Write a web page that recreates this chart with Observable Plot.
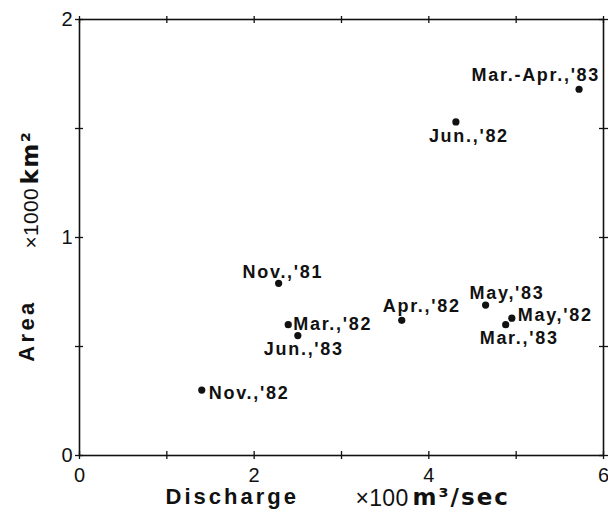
<!DOCTYPE html>
<html>
<head>
<meta charset="utf-8">
<script src="https://cdn.jsdelivr.net/npm/d3@7"></script>
<script src="https://cdn.jsdelivr.net/npm/@observablehq/plot@0.6"></script>
<style>
  html, body { margin: 0; padding: 0; background: #fff; }
  svg { font-family: "Liberation Sans", Arial, sans-serif; }
</style>
</head>
<body>
<div id="chart"></div>
<script>
// ---- data ----
const labels    = ["Nov.,'81", "Mar.,'82", "Apr.,'82", "May,'82", "Jun.,'82", "Nov.,'82", "Mar.-Apr.,'83", "Mar.,'83", "May,'83", "Jun.,'83"];
const discharge = [2.28, 2.39, 3.69, 4.95, 4.31, 1.40, 5.72, 4.88, 4.65, 2.50]; // ×100 m3/sec
const area      = [0.79, 0.60, 0.62, 0.63, 1.53, 0.30, 1.68, 0.60, 0.69, 0.55]; // ×1000 km2
const xTickLabels = [0, 2, 4, 6];
const xTicks      = [0, 1, 2, 3, 4, 5, 6];
const yTickLabels = [0, 1, 2];
const yTicks      = [0, 0.5, 1, 1.5, 2];

// ---- label placement (layout only) ----
const labelLayout = [
  {dx: -36, dy: -11, anchor: "start"},
  {dx: 5,   dy: 0,   anchor: "start"},
  {dx: -19, dy: -14, anchor: "start"},
  {dx: 6,   dy: -3,  anchor: "start"},
  {dx: -27, dy: 14,  anchor: "start"},
  {dx: 7,   dy: 3,   anchor: "start"},
  {dx: 21,  dy: -14, anchor: "end"},
  {dx: -26, dy: 14,  anchor: "start"},
  {dx: -16, dy: -12, anchor: "start"},
  {dx: -34, dy: 14,  anchor: "start"}
];

const points = labels.map((label, i) => ({label, x: discharge[i], y: area[i]}));

const W = 608, H = 520;
const mL = 79, mR = 5, mT = 19, mB = 65;
const innerW = W - mL - mR, innerH = H - mT - mB;
const tk = 4;
const ink = "#111";
const wide = "'DejaVu Sans', 'Liberation Sans', sans-serif";

const marks = [
  Plot.frame({stroke: ink, strokeWidth: 1.6}),
  // tick labels
  Plot.axisX(xTickLabels, {tickSize: 0, tickPadding: 12, fontSize: 20, label: null, fill: ink, tickFormat: d => String(d)}),
  Plot.axisY(yTickLabels, {tickSize: 0, tickPadding: 7, fontSize: 20, label: null, fill: ink, tickFormat: d => String(d)}),
  // outward ticks
  Plot.axisX(xTicks, {anchor: "bottom", tickSize: tk, text: null, label: null, stroke: ink, strokeWidth: 1.3}),
  Plot.axisX(xTicks, {anchor: "top", tickSize: tk, text: null, label: null, stroke: ink, strokeWidth: 1.3}),
  Plot.axisY(yTicks, {anchor: "left", tickSize: tk, text: null, label: null, stroke: ink, strokeWidth: 1.3}),
  Plot.axisY(yTicks, {anchor: "right", tickSize: tk, text: null, label: null, stroke: ink, strokeWidth: 1.3}),
  // inward ticks
  Plot.tickX(xTicks, {x: d => d, insetTop: innerH - tk, stroke: ink, strokeWidth: 1.3}),
  Plot.tickX(xTicks, {x: d => d, insetBottom: innerH - tk, stroke: ink, strokeWidth: 1.3}),
  Plot.tickY(yTicks, {y: d => d, insetLeft: innerW - tk, stroke: ink, strokeWidth: 1.3}),
  Plot.tickY(yTicks, {y: d => d, insetRight: innerW - tk, stroke: ink, strokeWidth: 1.3}),
  // points
  Plot.dot(points, {x: "x", y: "y", r: 3.6, fill: ink, stroke: null}),
  // point labels
  ...points.map((p, i) => Plot.text([p], {
    x: "x", y: "y", text: "label",
    dx: labelLayout[i].dx, dy: labelLayout[i].dy, textAnchor: labelLayout[i].anchor,
    fontSize: 18, fontWeight: "bold", fill: ink, ariaDescription: "pointlabel"
  })),
  // axis titles
  Plot.text(["Discharge"], {frameAnchor: "bottom-left", text: d => d, dx: 86, dy: 48, textAnchor: "start",
    fontSize: 22, fontWeight: "bold", fill: ink, ariaDescription: "title-bold"}),
  Plot.text(["\u00d7100"], {frameAnchor: "bottom-left", text: d => d, dx: 276, dy: 50, textAnchor: "start",
    fontSize: 23, fill: ink, ariaDescription: "unit-num"}),
  Plot.text(["m\u00b3/sec"], {frameAnchor: "bottom-left", text: d => d, dx: 333, dy: 49, textAnchor: "start",
    fontSize: 23, fontWeight: "bold", fontFamily: wide, fill: ink, ariaDescription: "unit-x"}),
  Plot.text(["Area"], {frameAnchor: "left", text: d => d, dx: -53, dy: 93, rotate: -90, textAnchor: "middle",
    fontSize: 22, fontWeight: "bold", fill: ink, ariaDescription: "title-area"}),
  Plot.text(["\u00d71000"], {frameAnchor: "left", text: d => d, dx: -48, dy: 11, rotate: -90, textAnchor: "start",
    fontSize: 21, fill: ink, ariaDescription: "unit-num"}),
  Plot.text(["km\u00b2"], {frameAnchor: "left", text: d => d, dx: -49, dy: -53, rotate: -90, textAnchor: "start",
    fontSize: 23, fontWeight: "bold", fontFamily: wide, fill: ink, ariaDescription: "unit-y"})
];

const svg = Plot.plot({
  width: W, height: H,
  marginLeft: mL, marginRight: mR, marginTop: mT, marginBottom: mB,
  x: {domain: [0, 6]},
  y: {domain: [0, 2]},
  style: {background: "#fff", color: ink, fontFamily: "'Liberation Sans', Arial, sans-serif"},
  marks
});

const sel = d3.select(svg);
sel.selectAll('[aria-description="pointlabel"]').style("letter-spacing", "1.7px");
sel.selectAll('[aria-description="title-bold"]').style("letter-spacing", "3px");
sel.selectAll('[aria-description="title-area"]').style("letter-spacing", "3.4px");
sel.selectAll('[aria-description="unit-num"]').style("letter-spacing", "0.3px");
sel.selectAll('[aria-description="unit-x"]').style("letter-spacing", "2px");
sel.selectAll('[aria-description="unit-y"]').style("letter-spacing", "1.5px");

document.getElementById("chart").appendChild(svg);
</script>
</body>
</html>
